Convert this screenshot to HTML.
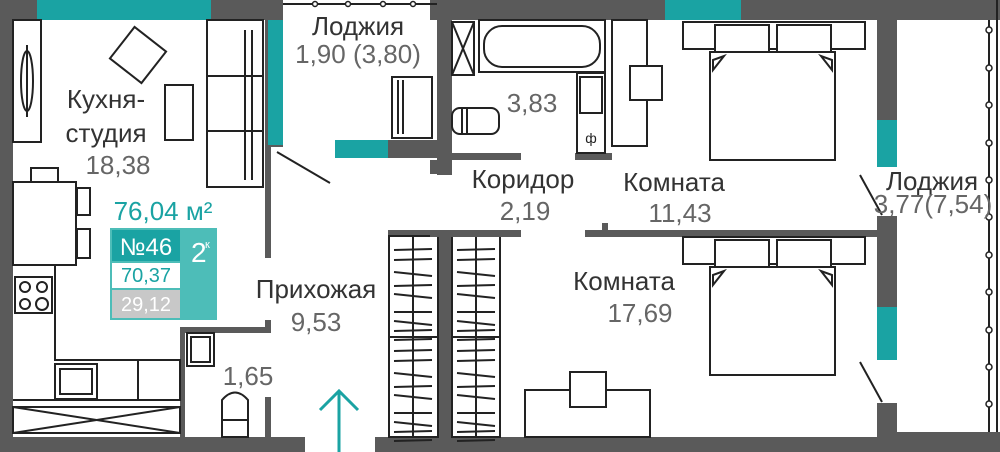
<!DOCTYPE html>
<html><head><meta charset="utf-8"><style>
html,body{margin:0;padding:0;background:#fff;}
svg{display:block;font-family:"Liberation Sans",sans-serif;}
.n{fill:#333;font-size:26px;text-anchor:middle}
.v{fill:#666;font-size:26px;text-anchor:middle}
.f{fill:#fff;stroke:#222;stroke-width:2}
.l{stroke:#222;stroke-width:2;fill:none}
</style></head><body>
<svg width="1000" height="452" viewBox="0 0 1000 452">
<defs>
<g id="hg" stroke="#222" stroke-width="2">
<line x1="5" y1="14" x2="43" y2="13"/><line x1="5" y1="24" x2="43" y2="23"/><line x1="5" y1="36" x2="43" y2="40"/>
<line x1="5" y1="50" x2="43" y2="49"/><line x1="5" y1="58" x2="43" y2="62"/><line x1="5" y1="76" x2="43" y2="76"/>
<line x1="5" y1="85" x2="43" y2="89"/><line x1="5" y1="95" x2="43" y2="94"/><line x1="5" y1="104" x2="43" y2="103"/>
</g>
</defs>
<!-- outer walls -->
<rect x="0" y="0" width="13" height="452" fill="#5a5a5a"/>
<rect x="0" y="0" width="283" height="20" fill="#5a5a5a"/>
<rect x="37" y="0" width="174" height="20" fill="#1aa3a3"/>
<rect x="430" y="0" width="570" height="20" fill="#5a5a5a"/>
<rect x="665" y="0" width="76" height="20" fill="#1aa3a3"/>
<rect x="0" y="437" width="305" height="15" fill="#5a5a5a"/>
<rect x="375" y="437" width="625" height="15" fill="#5a5a5a"/>
<rect x="877" y="432" width="123" height="20" fill="#5a5a5a"/>
<!-- loggia top -->
<line x1="283" y1="4" x2="437" y2="4" class="l"/>
<g fill="#fff" stroke="#222" stroke-width="1.5"><circle cx="315" cy="4" r="2.5"/><circle cx="348" cy="4" r="2.5"/><circle cx="383" cy="4" r="2.5"/><circle cx="413" cy="4" r="2.5"/></g>
<rect x="437" y="0" width="15" height="175" fill="#5a5a5a"/>
<rect x="265" y="20" width="18" height="127" fill="#5a5a5a"/>
<rect x="268" y="20" width="15" height="125" fill="#1aa3a3"/>
<rect x="265" y="147" width="6" height="111" fill="#5a5a5a"/>
<rect x="335" y="140" width="53" height="18" fill="#1aa3a3"/>
<rect x="388" y="140" width="49" height="18" fill="#5a5a5a"/>
<line x1="277" y1="152" x2="330" y2="183" class="l" stroke-width="1.5"/>
<!-- hall / wc walls -->
<rect x="265" y="320" width="6" height="13" fill="#5a5a5a"/>
<rect x="180" y="327" width="91" height="6" fill="#5a5a5a"/>
<rect x="180" y="327" width="5" height="110" fill="#5a5a5a"/>
<rect x="265" y="397" width="6" height="40" fill="#5a5a5a"/>
<!-- wardrobes -->
<rect x="388" y="230" width="122" height="7" fill="#5a5a5a"/>
<rect x="438" y="230" width="14" height="207" fill="#5a5a5a"/>
<rect x="389" y="236" width="49" height="201" class="f"/>
<rect x="452" y="236" width="48" height="201" class="f"/>
<line x1="389" y1="337" x2="438" y2="337" class="l"/><line x1="452" y1="337" x2="500" y2="337" class="l"/>
<line x1="413" y1="236" x2="413" y2="437" class="l"/><line x1="476" y1="236" x2="476" y2="437" class="l"/>
<use href="#hg" x="389" y="236"/><use href="#hg" x="389" y="337"/><use href="#hg" x="452" y="236"/><use href="#hg" x="452" y="337"/>
<!-- bathroom -->
<rect x="452" y="153" width="69" height="7" fill="#5a5a5a"/>
<rect x="575" y="153" width="37" height="7" fill="#5a5a5a"/>
<rect x="430" y="160" width="7" height="14" fill="#5a5a5a"/>
<rect x="452" y="22" width="22" height="53" class="f"/>
<line x1="452" y1="22" x2="474" y2="75" class="l" stroke-width="1"/><line x1="474" y1="22" x2="452" y2="75" class="l" stroke-width="1"/>
<rect x="479" y="20" width="126" height="52" class="f"/>
<rect x="484" y="26" width="116" height="41" rx="18" class="f"/>
<rect x="452" y="108" width="47" height="26" rx="8" class="f"/>
<line x1="462" y1="108" x2="462" y2="134" class="l"/><line x1="467" y1="108" x2="467" y2="134" class="l"/>
<rect x="577" y="73" width="28" height="80" class="f"/>
<rect x="580" y="77" width="22" height="36" class="f"/>
<text x="591" y="143" font-size="14" text-anchor="middle" fill="#222">ф</text>
<rect x="612" y="20" width="35" height="126" class="f"/>
<rect x="630" y="66" width="32" height="34" class="f"/>
<!-- corridor/room walls -->
<rect x="430" y="230" width="91" height="7" fill="#5a5a5a"/>
<rect x="585" y="230" width="292" height="7" fill="#5a5a5a"/>
<rect x="602" y="223" width="6" height="8" fill="#5a5a5a"/>
<rect x="877" y="20" width="20" height="100" fill="#5a5a5a"/>
<rect x="877" y="120" width="20" height="47" fill="#1aa3a3"/>
<rect x="877" y="216" width="20" height="91" fill="#5a5a5a"/>
<rect x="877" y="307" width="20" height="53" fill="#1aa3a3"/>
<rect x="877" y="403" width="20" height="34" fill="#5a5a5a"/>
<line x1="860" y1="175" x2="882" y2="215" class="l" stroke-width="1.5"/>
<line x1="860" y1="362" x2="882" y2="402" class="l" stroke-width="1.5"/>
<!-- right loggia window -->
<line x1="989" y1="20" x2="989" y2="432" class="l"/>
<line x1="997" y1="0" x2="997" y2="432" class="l"/>
<g fill="#fff" stroke="#222" stroke-width="1.5">
<circle cx="989" cy="30" r="3"/><circle cx="989" cy="68" r="3"/><circle cx="989" cy="105" r="3"/><circle cx="989" cy="143" r="3"/><circle cx="989" cy="180" r="3"/><circle cx="989" cy="217" r="3"/><circle cx="989" cy="255" r="3"/><circle cx="989" cy="292" r="3"/><circle cx="989" cy="330" r="3"/><circle cx="989" cy="367" r="3"/><circle cx="989" cy="404" r="3"/></g>
<!-- beds -->
<g><rect x="683" y="22" width="182" height="27" class="f"/><rect x="715" y="25" width="54" height="30" class="f"/><rect x="777" y="25" width="54" height="30" class="f"/>
<rect x="710" y="52" width="125" height="108" class="f" stroke-width="3"/>
<path d="M713 70 L713 60 L724 56 Z M832 70 L832 60 L821 56 Z" class="f"/></g>
<g transform="translate(0,215)"><rect x="683" y="22" width="182" height="27" class="f"/><rect x="715" y="25" width="54" height="30" class="f"/><rect x="777" y="25" width="54" height="30" class="f"/>
<rect x="710" y="52" width="125" height="108" class="f" stroke-width="3"/>
<path d="M713 70 L713 60 L724 56 Z M832 70 L832 60 L821 56 Z" class="f"/></g>
<rect x="525" y="390" width="125" height="47" class="f"/>
<rect x="570" y="372" width="36" height="35" class="f"/>
<!-- kitchen -->
<rect x="13" y="20" width="28" height="122" class="f"/>
<ellipse cx="27" cy="81" rx="6" ry="30" class="l"/><line x1="27" y1="45" x2="27" y2="117" class="l"/>
<rect x="118" y="35" width="40" height="40" class="f" transform="rotate(38 138 55)"/>
<rect x="165" y="85" width="28" height="55" class="f"/>
<rect x="207" y="20" width="56" height="167" class="f"/>
<line x1="245" y1="30" x2="245" y2="180" class="l"/><line x1="252" y1="30" x2="252" y2="180" class="l"/>
<line x1="207" y1="76" x2="263" y2="76" class="l"/><line x1="207" y1="131" x2="263" y2="131" class="l"/>
<rect x="31" y="168" width="27" height="14" class="f"/>
<rect x="77" y="188" width="13" height="27" class="f"/><rect x="77" y="229" width="13" height="29" class="f"/>
<rect x="13" y="182" width="63" height="83" class="f"/>
<path d="M13 265 L55 265 L55 360 L180 360 L180 400 L13 400" class="f"/>
<rect x="15" y="277" width="37" height="36" class="f"/>
<g class="l"><circle cx="25" cy="287" r="5"/><circle cx="42" cy="287" r="5"/><circle cx="25" cy="304" r="5"/><circle cx="42" cy="304" r="6"/></g>
<rect x="55" y="364" width="42" height="35" class="f"/><rect x="60" y="369" width="32" height="25" class="f"/>
<line x1="138" y1="360" x2="138" y2="400" class="l"/>
<rect x="13" y="407" width="167" height="26" class="f"/>
<line x1="13" y1="407" x2="180" y2="433" class="l" stroke-width="1"/><line x1="180" y1="407" x2="13" y2="433" class="l" stroke-width="1"/>
<!-- wc -->
<rect x="187" y="333" width="27" height="33" class="f"/><rect x="191" y="337" width="19" height="25" class="f"/>
<path d="M222 437 L222 400 Q235 385 248 400 L248 437 Z" class="f"/><line x1="222" y1="420" x2="248" y2="420" class="l"/>
<!-- loggia chair -->
<rect x="392" y="77" width="40" height="61" class="f"/><line x1="398" y1="80" x2="398" y2="134" class="l"/><line x1="403" y1="80" x2="403" y2="134" class="l"/>
<!-- info box -->
<rect x="110" y="228" width="107" height="92" fill="#4dbdb8"/>
<rect x="112" y="230" width="68" height="31" fill="#1aa3a3"/>
<rect x="112" y="263" width="68" height="25" fill="#fff"/>
<rect x="112" y="290" width="68" height="28" fill="#c8c8c8"/>
<text x="146" y="255" fill="#fff" font-size="24" text-anchor="middle">№46</text>
<text x="191" y="262" fill="#fff" font-size="28">2</text><text x="205" y="248" fill="#fff" font-size="11">к</text>
<text x="146" y="282" fill="#1aa3a3" font-size="20" text-anchor="middle">70,37</text>
<text x="146" y="311" fill="#fff" font-size="20" text-anchor="middle">29,12</text>
<text x="163" y="220" fill="#1aa3a3" font-size="26" text-anchor="middle">76,04 м²</text>
<!-- arrow -->
<g stroke="#1aa3a3" stroke-width="3" fill="none"><line x1="339" y1="392" x2="339" y2="452"/><polyline points="320,410 339,391 358,410"/></g>
<!-- labels -->
<text class="n" x="106" y="108">Кухня-</text><text class="n" x="106" y="142">студия</text><text class="v" x="118" y="174">18,38</text>
<text class="n" x="358" y="35">Лоджия</text><text class="v" x="358" y="63">1,90 (3,80)</text>
<text class="n" x="316" y="298">Прихожая</text><text class="v" x="316" y="331">9,53</text>
<text class="v" x="248" y="385">1,65</text>
<text class="v" x="532" y="112">3,83</text>
<text class="n" x="523" y="188">Коридор</text><text class="v" x="525" y="220">2,19</text>
<text class="n" x="674" y="191">Комната</text><text class="v" x="680" y="222">11,43</text>
<text class="n" x="624" y="290">Комната</text><text class="v" x="640" y="322">17,69</text>
<text class="n" x="932" y="190" font-size="24">Лоджия</text><text class="v" x="933" y="213" font-size="19">3,77(7,54)</text>
</svg>
</body></html>
